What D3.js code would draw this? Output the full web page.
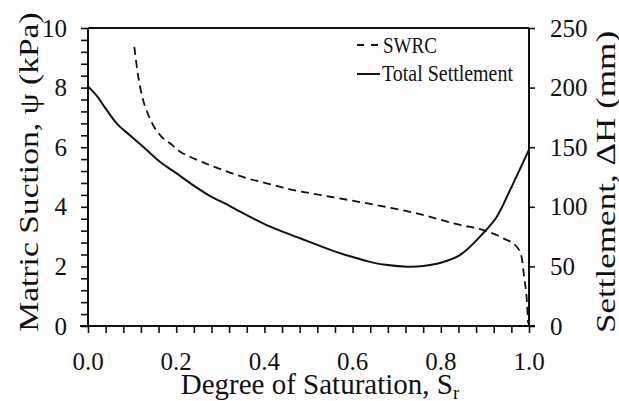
<!DOCTYPE html>
<html><head><meta charset="utf-8">
<script src="https://cdn.jsdelivr.net/npm/d3@7"></script>
<style>
body{margin:0;background:#fff;}
text{font-family:"Liberation Serif","Times New Roman",serif;fill:#111;}
</style></head>
<body><svg id="c" width="619" height="401"></svg>
<script>
// Degree of saturation vs matric suction (SWRC), left axis
const swrcSr  = [0.105,0.114,0.125,0.137,0.152,0.167,0.186,0.209,0.231,0.261,0.307,0.36,0.405,0.466,0.526,0.594,0.692,0.745,0.844,0.896,0.942,0.972,0.983,0.989,0.995,0.998];
const swrcPsi = [9.37,8.37,7.58,7.08,6.63,6.35,6.13,5.85,5.68,5.49,5.23,4.96,4.79,4.56,4.40,4.22,3.95,3.78,3.39,3.22,2.94,2.66,2.33,1.65,0.87,0.09];
// Total settlement, right axis (mm)
const settSr = [0,0.02,0.039,0.065,0.095,0.125,0.163,0.201,0.239,0.277,0.318,0.345,0.405,0.481,0.556,0.594,0.632,0.67,0.723,0.76,0.8,0.844,0.896,0.927,0.957,1.0];
const settMm = [201,193,183,170,160,150.4,137.8,128,118,109,101.5,95.9,84.7,73.6,63,58.5,54.5,51.5,49.8,50.3,53,59.6,77.8,91.7,114,148];
const xTicks = [0,0.2,0.4,0.6,0.8,1.0];
const yLeftTicks = [0,2,4,6,8,10];
const yRightTicks = [0,50,100,150,200,250];
const legendLabels = ["SWRC","Total Settlement"];

const svg = d3.select("#c");
const L=88,R=529,T=28,B=326;
const x = d3.scaleLinear().domain([0,1]).range([L,R]);
const yL = d3.scaleLinear().domain([0,10]).range([B,T]);
const yR = d3.scaleLinear().domain([0,250]).range([B,T]);

// frame top
svg.append("line").attr("x1",L).attr("x2",R).attr("y1",T).attr("y2",T).attr("stroke","#111").attr("stroke-width",2);

// axes
const tickFmt1 = d3.format(".1f");
const gx = svg.append("g").attr("transform",`translate(0,${B})`)
  .call(d3.axisBottom(x).tickValues(d3.range(0,1.0001,0.04)).tickSize(7).tickFormat(""));
const gl = svg.append("g").attr("transform",`translate(${L},0)`)
  .call(d3.axisLeft(yL).tickValues(d3.range(0,10.001,0.4)).tickSize(7).tickFormat(""));
const gr = svg.append("g").attr("transform",`translate(${R},0)`)
  .call(d3.axisRight(yR).tickValues(yRightTicks).tickSize(6).tickFormat(""));
[gx,gl,gr].forEach(g=>{
  g.select(".domain").attr("stroke","#111").attr("stroke-width",2);
  g.selectAll(".tick line").attr("stroke","#111").attr("stroke-width",1.6);
});
gx.select(".domain").attr("d",`M${L-8},0H${R+6}`);
gl.select(".domain").attr("d",`M0,${T}V${B}`);
gr.select(".domain").attr("d",`M0,${T}V${B}`);

// tick labels
svg.append("g").selectAll("text").data(xTicks).join("text")
  .attr("x",d=>x(d)).attr("y",370).attr("text-anchor","middle").attr("font-size",25)
  .text(d=>tickFmt1(d));
svg.append("g").selectAll("text").data(yLeftTicks).join("text")
  .attr("x",67).attr("y",d=>yL(d)+8.5).attr("text-anchor","end").attr("font-size",25)
  .text(d=>d);
svg.append("g").selectAll("text").data(yRightTicks).join("text")
  .attr("x",550).attr("y",d=>yR(d)+8.5).attr("text-anchor","start").attr("font-size",25)
  .text(d=>d);

// axis titles
const xt = svg.append("text").attr("x",320).attr("y",394).attr("text-anchor","middle").attr("font-size",29);
xt.append("tspan").text("Degree of Saturation, S");
xt.append("tspan").attr("font-size",19).attr("dy",5).text("r");

svg.append("text").attr("transform","translate(38,172) rotate(-90) scale(1.2,1)")
  .attr("text-anchor","middle").attr("font-size",28).text("Matric Suction, ψ (kPa)");
svg.append("text").attr("transform","translate(615,182) rotate(-90) scale(1.3,1)")
  .attr("text-anchor","middle").attr("font-size",27).text("Settlement, ΔH (mm)");

// lines
const lineL = d3.line().x(d=>x(d[0])).y(d=>yL(d[1])).curve(d3.curveMonotoneX);
const lineR = d3.line().x(d=>x(d[0])).y(d=>yR(d[1])).curve(d3.curveCatmullRom.alpha(0.5));
svg.append("path").attr("d",lineL(d3.zip(swrcSr,swrcPsi))).attr("fill","none")
  .attr("stroke","#111").attr("stroke-width",1.8).attr("stroke-dasharray","8,5");
svg.append("path").attr("d",lineR(d3.zip(settSr,settMm))).attr("fill","none")
  .attr("stroke","#111").attr("stroke-width",2);

// legend
const lg = svg.append("g");
lg.append("line").attr("x1",357).attr("x2",379).attr("y1",45).attr("y2",45)
  .attr("stroke","#111").attr("stroke-width",1.8).attr("stroke-dasharray","7,7");
lg.append("line").attr("x1",357).attr("x2",380).attr("y1",74).attr("y2",74)
  .attr("stroke","#111").attr("stroke-width",2);
lg.append("text").attr("x",383).attr("y",53).attr("font-size",23)
  .attr("textLength",54).attr("lengthAdjust","spacingAndGlyphs").text(legendLabels[0]);
lg.append("text").attr("x",382).attr("y",81).attr("font-size",23)
  .attr("textLength",131).attr("lengthAdjust","spacingAndGlyphs").text(legendLabels[1]);
</script></body></html>
